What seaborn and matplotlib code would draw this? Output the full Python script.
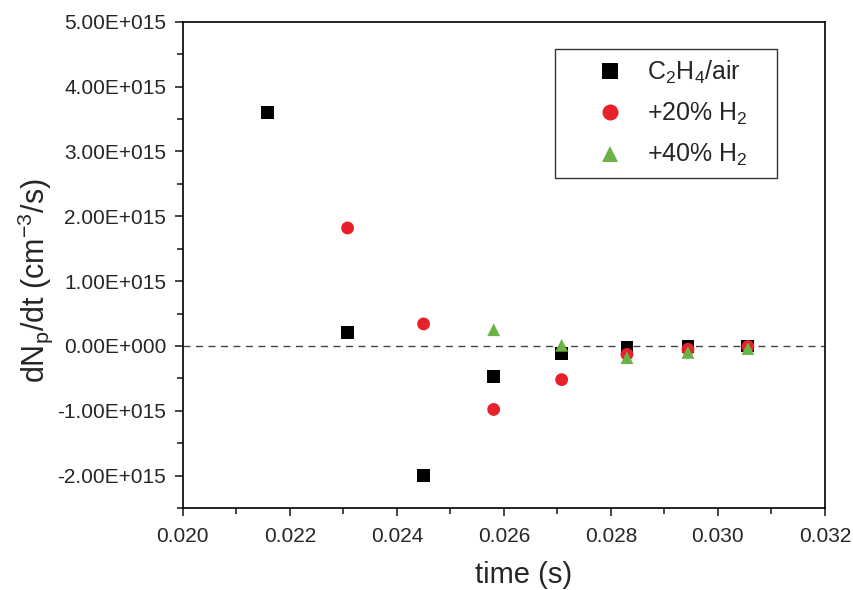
import matplotlib
matplotlib.use("Agg")
import matplotlib.pyplot as plt
from matplotlib.ticker import MultipleLocator, FuncFormatter
import pandas as pd
import seaborn as sns

# data (time in s, dNp/dt in 1e15 cm^-3/s)
time_c2h4 = [0.02159, 0.02308, 0.02450, 0.02581, 0.02708, 0.02830, 0.02944, 0.03056]
rate_c2h4 = [3.60, 0.21, -2.00, -0.47, -0.12, -0.03, -0.01, 0.00]

time_h20 = [0.02308, 0.02450, 0.02581, 0.02708, 0.02830, 0.02944, 0.03056]
rate_h20 = [1.82, 0.34, -0.98, -0.52, -0.13, -0.05, -0.01]

time_h40 = [0.02581, 0.02708, 0.02830, 0.02944, 0.03056]
rate_h40 = [0.25, 0.01, -0.18, -0.10, -0.04]

labels = ['C$_2$H$_4$/air', '+20% H$_2$', '+40% H$_2$']
colors = ['#000000', '#e8202a', '#6ab344']
markers = ['s', 'o', '^']


def build_df():
    rows = []
    for lab, xs, ys in zip(labels, [time_c2h4, time_h20, time_h40],
                           [rate_c2h4, rate_h20, rate_h40]):
        for x, y in zip(xs, ys):
            rows.append((x, y * 1e15, lab))
    return pd.DataFrame(rows, columns=['time', 'rate', 'mix'])


def sci(v, pos):
    if abs(v) < 1:
        return '0.00E+000'
    m, e = f'{v:.2E}'.split('E')
    return f'{m}E{e[0]}{int(e[1:]):03d}'


def main():
    df = build_df()
    sns.set_style('ticks')
    plt.rcParams['font.family'] = ['Liberation Sans', 'DejaVu Sans']
    plt.rcParams['mathtext.fontset'] = 'custom'
    plt.rcParams['mathtext.rm'] = 'Liberation Sans'
    plt.rcParams['mathtext.it'] = 'Liberation Sans'

    fig = plt.figure(figsize=(8.54, 5.90), dpi=100)
    ax = fig.add_axes([0.214, 0.139, 0.752, 0.824])

    ax.axhline(0, color='#444444', lw=1, ls=(0, (5, 4)), zorder=1)

    sns.scatterplot(data=df, x='time', y='rate', hue='mix', style='mix',
                    palette=dict(zip(labels, colors)),
                    markers=dict(zip(labels, markers)),
                    s=85, linewidth=0, ax=ax, zorder=3)

    ax.set_xlim(0.020, 0.032)
    ax.set_ylim(-2.5e15, 5e15)
    ax.xaxis.set_major_locator(MultipleLocator(0.002))
    ax.xaxis.set_minor_locator(MultipleLocator(0.001))
    ax.yaxis.set_major_locator(MultipleLocator(1e15))
    ax.yaxis.set_minor_locator(MultipleLocator(0.5e15))
    ax.xaxis.set_major_formatter(FuncFormatter(lambda v, p: f'{v:.3f}'))
    ax.yaxis.set_major_formatter(FuncFormatter(sci))
    ax.yaxis.get_offset_text().set_visible(False)

    ax.tick_params(which='major', direction='out', length=6, width=1.2, labelsize=15)
    ax.tick_params(axis='x', which='major', pad=8)
    ax.tick_params(axis='y', which='major', pad=6)
    ax.tick_params(which='minor', direction='out', length=4, width=1.2)
    for sp in ax.spines.values():
        sp.set_linewidth(1.2)
        sp.set_color('black')

    ax.set_xlabel('time (s)', fontsize=21)
    ax.set_ylabel('dN$_p$/dt (cm$^{-3}$/s)', fontsize=22)
    ax.xaxis.set_label_coords(0.531, -0.11)
    ax.yaxis.set_label_coords(-0.199, 0.467)

    # legend box stretched to the reference width
    leg = ax.legend(loc='upper left', bbox_to_anchor=(0.5794, 0.9444, 0.3458, 0),
                    mode='expand', borderaxespad=0, fontsize=18, frameon=True,
                    fancybox=False, borderpad=0.4, labelspacing=0.6,
                    handlelength=3.6, handletextpad=-0.3, markerscale=1.25)
    leg.get_frame().set_edgecolor('black')
    leg.get_frame().set_linewidth(1.0)

    fig.savefig('out.png', dpi=100)


if __name__ == "__main__":
    main()
